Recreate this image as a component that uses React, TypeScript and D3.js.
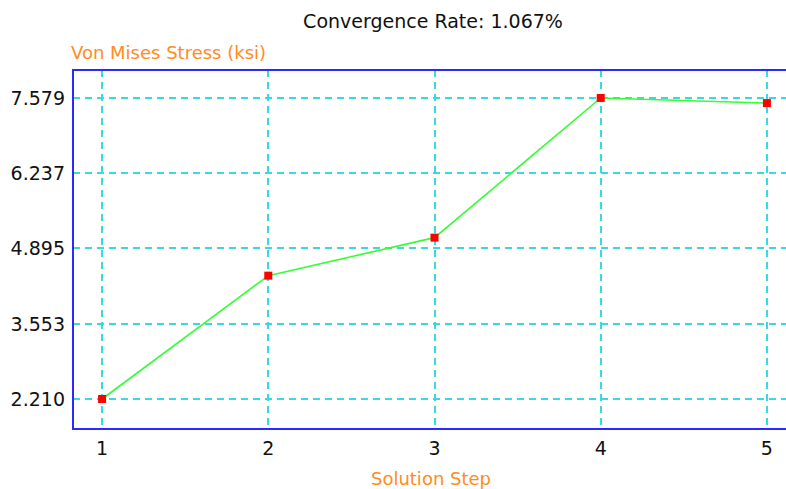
import React from "react";
import * as d3 from "d3";

const steps = [1, 2, 3, 4, 5];
const stress = [2.21, 4.41, 5.088, 7.579, 7.488];
const yTicks = [2.21, 3.553, 4.895, 6.237, 7.579];
const yTickLabels = ["2.210", "3.553", "4.895", "6.237", "7.579"];
const title = "Convergence Rate: 1.067%";
const yTitle = "Von Mises Stress (ksi)";
const xTitle = "Solution Step";

const W = 786;
const H = 489;
const plot = { left: 73, top: 70, right: 796, bottom: 429 };
const font = "Tahoma, 'DejaVu Sans', Verdana, sans-serif";

export default function App() {
  const x = d3.scaleLinear().domain([0.825, 5.175]).range([plot.left, plot.right]);
  const y = d3.scaleLinear().domain([1.675, 8.078]).range([plot.bottom, plot.top]);
  const line = d3
    .line<number>()
    .x((_, i) => x(steps[i]))
    .y((d) => y(d));
  const grid = "#3ad8e2";
  return (
    <div style={{ position: "fixed", left: 0, top: 0 }}>
      <svg width={W} height={H} style={{ display: "block", background: "#fff" }}>
        <text x={433} y={28} textAnchor="middle" fontFamily={font} fontSize={19} fill="#111">
          {title}
        </text>
        <text x={71} y={59} fontFamily={font} fontSize={18} fill="#ff8c1e">
          {yTitle}
        </text>
        <text x={431} y={485} textAnchor="middle" fontFamily={font} fontSize={18} fill="#ff8c1e">
          {xTitle}
        </text>
        {yTicks.map((t) => (
          <line key={"gy" + t} x1={plot.left} x2={plot.right} y1={Math.round(y(t))} y2={Math.round(y(t))}
            stroke={grid} strokeWidth={2} strokeDasharray="7,5" />
        ))}
        {steps.map((s) => (
          <line key={"gx" + s} x1={Math.round(x(s))} x2={Math.round(x(s))} y1={plot.top} y2={plot.bottom}
            stroke={grid} strokeWidth={2} strokeDasharray="7,5" />
        ))}
        <rect x={plot.left} y={plot.top} width={plot.right - plot.left} height={plot.bottom - plot.top}
          fill="none" stroke="#2a2aff" strokeWidth={2} />
        {yTicks.map((t, i) => (
          <text key={"yl" + t} x={65} y={y(t) + 7} textAnchor="end" fontFamily={font} fontSize={19} fill="#111">
            {yTickLabels[i]}
          </text>
        ))}
        {steps.map((s) => (
          <text key={"xl" + s} x={x(s)} y={455} textAnchor="middle" fontFamily={font} fontSize={19} fill="#111">
            {s}
          </text>
        ))}
        <path d={line(stress) || ""} fill="none" stroke="#33ff33" strokeWidth={1.6} />
        {stress.map((v, i) => (
          <rect key={"m" + i} x={x(steps[i]) - 4} y={y(v) - 4} width={8} height={8} fill="#ff0000" />
        ))}
      </svg>
    </div>
  );
}
